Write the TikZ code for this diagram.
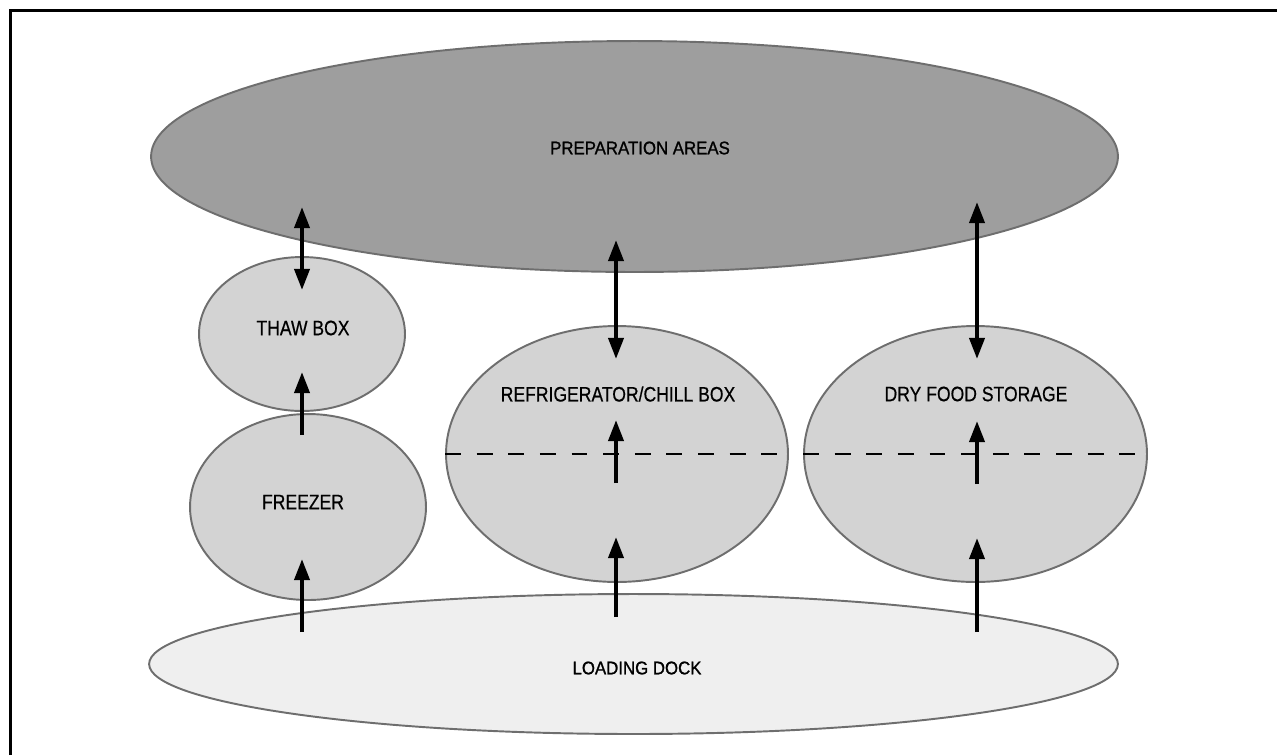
\documentclass[tikz,border=0pt]{standalone}
\usepackage{fontspec}
\setmainfont{Liberation Sans}
\newfontfamily\heavyfont[FakeBold=1.2]{Liberation Sans}
\newfontfamily\roomfont[FakeBold=0.6]{Liberation Sans}
\usepackage{graphicx}
\usetikzlibrary{shapes.geometric,arrows.meta}

\definecolor{prepgray}{HTML}{9E9E9E}
\definecolor{roomgray}{HTML}{D3D3D3}
\definecolor{dockgray}{HTML}{EFEFEF}
\definecolor{edgegray}{HTML}{6E6E6E}

\newcommand{\roomtext}[1]{\scalebox{0.84}[1]{#1}}
\newcommand{\bigtext}[1]{\scalebox{0.92}[1]{#1}}

\tikzset{
  area/.style={ellipse,draw=edgegray,line width=1.1pt,inner sep=0pt},
  lbl/.style={font=\heavyfont\fontsize{10.4}{12}\selectfont,inner sep=0pt},
  roomlbl/.style={font=\roomfont\fontsize{11.9}{14}\selectfont,inner sep=0pt},
  flow/.style={line width=2.3pt,-{Triangle[width=8.5pt,length=12pt]}},
  twoway/.style={line width=2.3pt,{Triangle[width=8.5pt,length=12pt]}-{Triangle[width=8.5pt,length=12pt]}},
  split/.style={line width=1.6pt,dash pattern=on 9pt off 9pt}
}

\begin{document}
\begin{tikzpicture}[x=0.02cm,y=-0.02cm]

  \useasboundingbox (0,0) rectangle (1277,755);

  % frame
  \draw[line width=1.7pt] (10.5,755) |- (1277,10.5);

  % areas
  \node[area,fill=prepgray,minimum width=19.34cm,minimum height=4.62cm] (prep) at (634.5,156.5) {};
  \node[area,fill=roomgray,minimum width=4.12cm,minimum height=3.08cm] (thaw) at (302,334) {};
  \node[area,fill=roomgray,minimum width=4.72cm,minimum height=3.72cm] (freezer) at (308,507) {};
  \node[area,fill=roomgray,minimum width=6.84cm,minimum height=5.12cm] (fridge) at (617,454) {};
  \node[area,fill=roomgray,minimum width=6.86cm,minimum height=5.12cm] (dry) at (975.5,454) {};
  \node[area,fill=dockgray,minimum width=19.38cm,minimum height=2.8cm] (dock) at (633.5,664) {};

  % labels
  \node[lbl] (preplbl) at (640,148) {\bigtext{PREPARATION AREAS}};
  \node[roomlbl] (thawlbl) at (303,328) {\roomtext{THAW BOX}};
  \node[roomlbl] (freezerlbl) at (303,502) {\roomtext{FREEZER}};
  \node[roomlbl] (fridgelbl) at (618,394) {\roomtext{REFRIGERATOR/CHILL BOX}};
  \node[roomlbl] (drylbl) at (976,394) {\roomtext{DRY FOOD STORAGE}};
  \node[lbl] (docklbl) at (637,668) {\bigtext{LOADING DOCK}};

  % dashed splits
  \draw[split] (fridge.west) -- (fridge.east);
  \draw[split] (dry.west) -- (dry.east);

  % arrow ends
  \coordinate (thawup) at (302,207);
  \coordinate (thawdown) at (302,290);
  \coordinate (thawin) at (302,372);
  \coordinate (freezerout) at (302,435);
  \coordinate (freezerin) at (302,559);
  \coordinate (freezerdock) at (302,632);
  \coordinate (fridgeup) at (616,240);
  \coordinate (fridgedown) at (616,359);
  \coordinate (fridgetip) at (616,420);
  \coordinate (fridgetail) at (616,483);
  \coordinate (fridgein) at (616,537);
  \coordinate (fridgedock) at (616,617);
  \coordinate (dryup) at (977,202);
  \coordinate (drydown) at (977,359);
  \coordinate (drytip) at (977,421);
  \coordinate (drytail) at (977,484);
  \coordinate (dryin) at (977,538);
  \coordinate (drydock) at (977,632);

  % flows
  \draw[twoway] (thawup) -- (thawdown);
  \draw[flow] (freezerout) -- (thawin);
  \draw[flow] (freezerdock) -- (freezerin);
  \draw[twoway] (fridgeup) -- (fridgedown);
  \draw[flow] (fridgetail) -- (fridgetip);
  \draw[flow] (fridgedock) -- (fridgein);
  \draw[twoway] (dryup) -- (drydown);
  \draw[flow] (drytail) -- (drytip);
  \draw[flow] (drydock) -- (dryin);

\end{tikzpicture}
\end{document}
